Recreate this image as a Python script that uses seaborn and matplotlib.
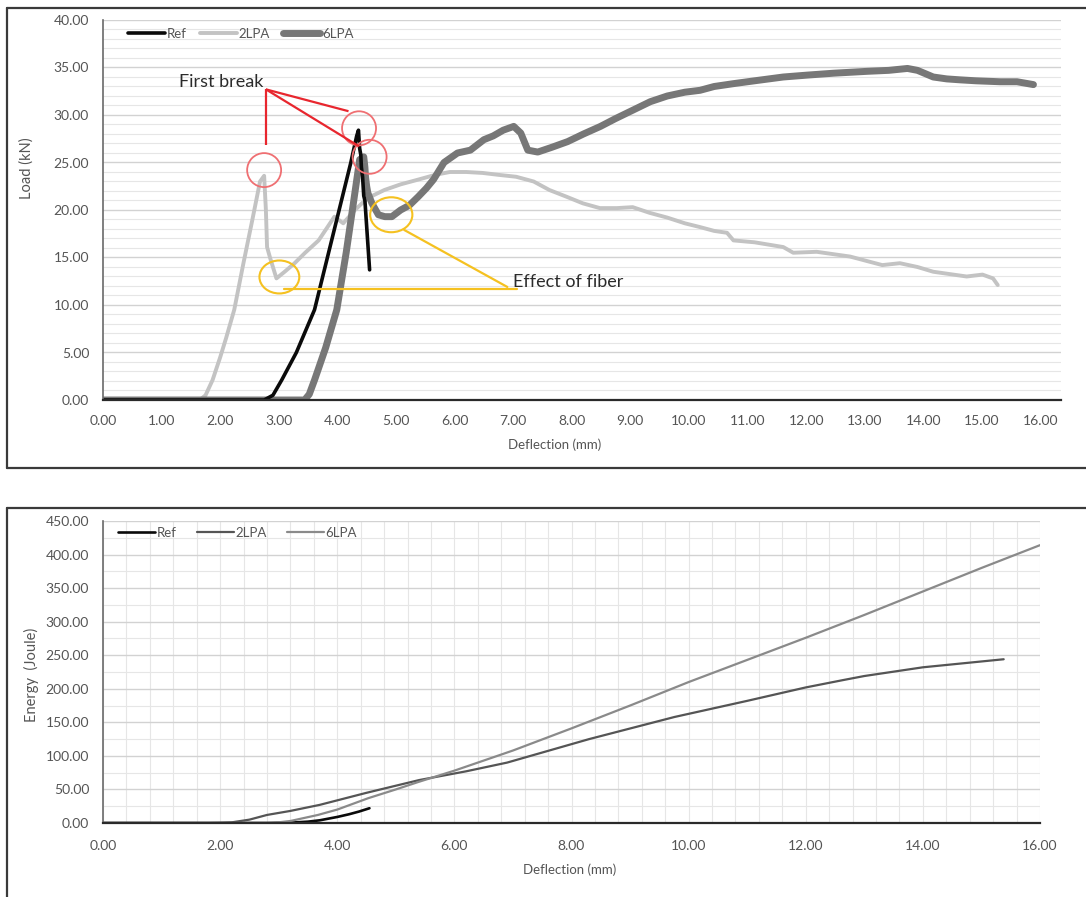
import matplotlib
matplotlib.use("Agg")
import matplotlib.pyplot as plt
from matplotlib.patches import Ellipse
from matplotlib.lines import Line2D
from matplotlib.ticker import MultipleLocator, FormatStrFormatter
import seaborn as sns

# ---------------- Load vs deflection ----------------
ref_x = [0.0, 2.75, 2.9, 3.05, 3.3, 3.61, 3.83, 4.03, 4.23, 4.33, 4.36, 4.38, 4.40, 4.41, 4.43, 4.45, 4.47, 4.55]
ref_load = [0.0, 0.0, 0.5, 2.1, 5.0, 9.5, 15.0, 20.0, 25.0, 27.8, 28.4, 26.5, 25.8, 24.5, 23.5, 21.5, 21.0, 13.7]

lpa2_x = [0.0, 1.65, 1.75, 1.87, 2.0, 2.1, 2.24, 2.4, 2.55, 2.68, 2.75, 2.78, 2.80, 2.85, 2.96,
          3.1, 3.27, 3.45, 3.68, 3.95, 4.1, 4.3, 4.47, 4.6, 4.8, 5.08, 5.38, 5.67, 5.92, 6.2,
          6.48, 6.75, 7.05, 7.35, 7.62, 7.91, 8.19, 8.48, 8.77, 9.04, 9.33, 9.63, 9.93, 10.19,
          10.43, 10.65, 10.76, 11.12, 11.61, 11.78, 12.18, 12.75, 13.3, 13.6, 13.9, 14.17,
          14.74, 15.01, 15.19, 15.27]
lpa2_load = [0.0, 0.0, 0.5, 2.1, 4.5, 6.5, 9.5, 14.5, 19.0, 23.0, 23.6, 20.0, 16.1, 15.0, 12.8,
             13.5, 14.4, 15.5, 16.8, 19.3, 18.6, 20.0, 21.0, 21.5, 22.1, 22.7, 23.2, 23.7, 24.0, 24.0,
             23.9, 23.7, 23.5, 23.0, 22.1, 21.4, 20.7, 20.2, 20.2, 20.3, 19.7, 19.2, 18.6, 18.2,
             17.8, 17.6, 16.8, 16.6, 16.1, 15.5, 15.6, 15.1, 14.2, 14.4, 14.0, 13.5,
             13.0, 13.2, 12.8, 12.1]

lpa6_x = [0.0, 3.44, 3.52, 3.61, 3.8, 3.99, 4.15, 4.28, 4.38, 4.45, 4.47, 4.48, 4.50, 4.52, 4.59,
          4.7, 4.81, 4.93, 5.08, 5.23, 5.38, 5.52, 5.64, 5.82, 6.05, 6.27, 6.5, 6.66, 6.83, 7.01,
          7.13, 7.25, 7.42, 7.66, 7.93, 8.2, 8.49, 8.74, 9.04, 9.34, 9.63, 9.93, 10.19, 10.43,
          10.76, 11.12, 11.61, 12.02, 12.47, 13.05, 13.41, 13.73, 13.9, 14.17, 14.4, 14.63,
          14.9, 15.31, 15.6, 15.88]
lpa6_load = [0.0, 0.0, 0.6, 2.1, 5.5, 9.5, 15.5, 21.0, 25.3, 25.6, 24.5, 23.5, 22.5, 21.8, 20.7,
             19.5, 19.3, 19.3, 20.0, 20.5, 21.4, 22.3, 23.2, 25.0, 26.0, 26.3, 27.4, 27.8, 28.4, 28.8,
             28.1, 26.3, 26.1, 26.6, 27.2, 28.0, 28.8, 29.6, 30.5, 31.4, 32.0, 32.4, 32.6, 33.0,
             33.3, 33.6, 34.0, 34.2, 34.4, 34.6, 34.7, 34.9, 34.7, 34.0, 33.8, 33.7,
             33.6, 33.5, 33.5, 33.2]

# ---------------- Energy vs deflection ----------------
ref_ex = [0.0, 2.8, 3.2, 3.5, 3.7, 4.0, 4.2, 4.37, 4.55]
ref_energy = [0.0, 0.0, 0.5, 2.0, 4.0, 9.0, 13.0, 17.0, 22.0]

lpa2_ex = [0.0, 1.8, 2.0, 2.2, 2.5, 2.8, 3.2, 3.7, 4.5, 5.4, 6.2, 6.9, 8.3, 9.76, 11.0, 12.0,
           12.64, 13.0, 14.0, 15.38]
lpa2_energy = [0.0, 0.0, 0.3, 1.0, 5.0, 12.0, 18.0, 27.0, 45.0, 64.0, 77.0, 90.0, 125.0, 158.0,
               182.0, 202.0, 213.0, 219.0, 232.0, 244.0]

lpa6_ex = [0.0, 2.9, 3.2, 3.67, 4.0, 4.53, 5.0, 5.38, 6.0, 7.0, 8.0, 9.0, 10.0, 11.0, 12.0,
           13.0, 14.0, 15.0, 16.0]
lpa6_energy = [0.0, 0.0, 3.0, 12.0, 20.0, 37.0, 50.0, 61.0, 78.0, 108.0, 141.0, 175.0, 210.0,
               243.0, 276.0, 310.0, 345.0, 380.0, 414.0]

series_names = ["Ref", "2LPA", "6LPA"]

sns.set_theme(style="white")
plt.rcParams["font.family"] = ["Lato", "DejaVu Sans"]

W, H = 1086, 897
fig = plt.figure(figsize=(W / 100, H / 100), dpi=100)
fig.patch.set_facecolor("white")

tick_color = "#555555"
label_color = "#555555"


def px_axes(left, top, right, bottom):
    return fig.add_axes([left / W, 1 - bottom / H, (right - left) / W, (bottom - top) / H])


def frame(x0, y0, x1, y1):
    kw = dict(color="#3a3a3a", lw=1.6, transform=fig.transFigure, clip_on=False)
    fig.add_artist(Line2D([x0 / W, x1 / W], [1 - y0 / H, 1 - y0 / H], **kw))
    fig.add_artist(Line2D([x0 / W, x0 / W], [1 - y0 / H, 1 - y1 / H], **kw))
    if y1 < H:
        fig.add_artist(Line2D([x0 / W, x1 / W], [1 - y1 / H, 1 - y1 / H], **kw))


frame(7, 8, W, 468)
frame(7, 508, W, H + 5)

# ================= Top: load =================
ax1 = px_axes(103, 20, 1061, 400)
ax1.set_xlim(0, 16.35)
ax1.set_ylim(0, 40)
ax1.set_axisbelow(True)
ax1.yaxis.set_major_locator(MultipleLocator(5))
ax1.yaxis.set_minor_locator(MultipleLocator(1))
ax1.xaxis.set_major_locator(MultipleLocator(1))
ax1.yaxis.set_major_formatter(FormatStrFormatter("%.2f"))
ax1.xaxis.set_major_formatter(FormatStrFormatter("%.2f"))
ax1.grid(axis="y", which="major", color="#d2d2d2", lw=1.0)
ax1.grid(axis="y", which="minor", color="#e6e6e6", lw=0.8)
ax1.grid(axis="x", visible=False)

sns.lineplot(x=lpa2_x, y=lpa2_load, ax=ax1, color="#c3c3c3", lw=2.8, sort=False,
             estimator=None, label=series_names[1], legend=False)
sns.lineplot(x=lpa6_x, y=lpa6_load, ax=ax1, color="#777777", lw=5.0, sort=False,
             estimator=None, label=series_names[2], legend=False)
sns.lineplot(x=ref_x, y=ref_load, ax=ax1, color="#0a0a0a", lw=2.6, sort=False,
             estimator=None, label=series_names[0], legend=False)

# Annotations: first break
red_line = "#e8262e"
red_circle = "#ef6f72"
for cx, cy in [(2.75, 24.2), (4.37, 28.6), (4.55, 25.6)]:
    ax1.add_patch(Ellipse((cx, cy), 0.58, 3.58, fill=False, ec=red_circle, lw=1.3, zorder=5))
for ex, ey in [(2.78, 26.8), (4.19, 30.4), (4.37, 26.7)]:
    ax1.plot([2.78, ex], [32.7, ey], color=red_line, lw=1.6, zorder=5, solid_capstyle="butt")
ax1.text(1.29, 33.5, "First break", fontsize=13, color="#2b2b2b", ha="left", va="center")

# Annotations: effect of fiber
yellow = "#f5c120"
ax1.add_patch(Ellipse((3.01, 12.95), 0.68, 3.47, fill=False, ec=yellow, lw=1.5, zorder=5))
ax1.add_patch(Ellipse((4.92, 19.5), 0.72, 3.68, fill=False, ec=yellow, lw=1.5, zorder=5))
ax1.plot([3.09, 7.06], [11.7, 11.7], color=yellow, lw=1.6, zorder=5)
ax1.plot([5.14, 6.9], [17.9, 11.9], color=yellow, lw=1.6, zorder=5)
ax1.text(7.0, 12.4, "Effect of fiber", fontsize=13, color="#2b2b2b", ha="left", va="center")

ax1.set_xlabel("")
ax1.set_ylabel("")
fig.text(555 / W, 1 - 445 / H, "Deflection (mm)", fontsize=9.5, color=label_color,
         ha="center", va="center")
fig.text(27 / W, 1 - 168 / H, "Load (kN)", fontsize=10.5, color=label_color,
         ha="center", va="center", rotation=90)

h1 = [ax1.get_lines()[2], ax1.get_lines()[0], ax1.get_lines()[1]]
ax1.legend(h1, series_names, loc="center left", bbox_to_anchor=(0.026, 0.963),
           frameon=False, ncol=3, fontsize=9.5, handlelength=2.8, handletextpad=0.15,
           columnspacing=1.0, borderpad=0, borderaxespad=0, labelcolor=tick_color)

# ================= Bottom: energy =================
ax2 = px_axes(103, 521, 1040, 823)
ax2.set_xlim(0, 16)
ax2.set_ylim(0, 450)
ax2.set_axisbelow(True)
ax2.yaxis.set_major_locator(MultipleLocator(50))
ax2.yaxis.set_minor_locator(MultipleLocator(25))
ax2.xaxis.set_major_locator(MultipleLocator(2))
ax2.xaxis.set_minor_locator(MultipleLocator(0.4))
ax2.yaxis.set_major_formatter(FormatStrFormatter("%.2f"))
ax2.xaxis.set_major_formatter(FormatStrFormatter("%.2f"))
ax2.grid(axis="y", which="major", color="#d2d2d2", lw=1.0)
ax2.grid(axis="y", which="minor", color="#e6e6e6", lw=0.8)
ax2.grid(axis="x", which="both", color="#e6e6e6", lw=0.8)

sns.lineplot(x=ref_ex, y=ref_energy, ax=ax2, color="#0a0a0a", lw=1.9, sort=False,
             estimator=None, label=series_names[0], legend=False)
sns.lineplot(x=lpa2_ex, y=lpa2_energy, ax=ax2, color="#555555", lw=1.6, sort=False,
             estimator=None, label=series_names[1], legend=False)
sns.lineplot(x=lpa6_ex, y=lpa6_energy, ax=ax2, color="#8a8a8a", lw=1.6, sort=False,
             estimator=None, label=series_names[2], legend=False)

ax2.set_xlabel("")
ax2.set_ylabel("")
fig.text(570 / W, 1 - 870 / H, "Deflection (mm)", fontsize=9.5, color=label_color,
         ha="center", va="center")
fig.text(31 / W, 1 - 675 / H, "Energy  (Joule)", fontsize=10.5, color=label_color,
         ha="center", va="center", rotation=90)

ax2.legend(ax2.get_lines(), series_names, loc="center left", bbox_to_anchor=(0.016, 0.960),
           frameon=False, ncol=3, fontsize=9.5, handlelength=2.8, handletextpad=0.15,
           columnspacing=1.5, borderpad=0, borderaxespad=0, labelcolor=tick_color)

# Shared axis styling
for ax, xpad in [(ax1, 11), (ax2, 12)]:
    for side in ["top", "right"]:
        ax.spines[side].set_visible(False)
    ax.spines["left"].set_color("#6a6a6a")
    ax.spines["left"].set_linewidth(1.2)
    ax.spines["bottom"].set_color("#2a2a2a")
    ax.spines["bottom"].set_linewidth(1.6)
    ax.tick_params(axis="both", which="both", length=0, labelsize=10, labelcolor=tick_color)
    ax.tick_params(axis="y", pad=10)
    ax.tick_params(axis="x", pad=xpad)
    ax.set_facecolor("white")

fig.savefig("out.png", dpi=100, facecolor="white")
